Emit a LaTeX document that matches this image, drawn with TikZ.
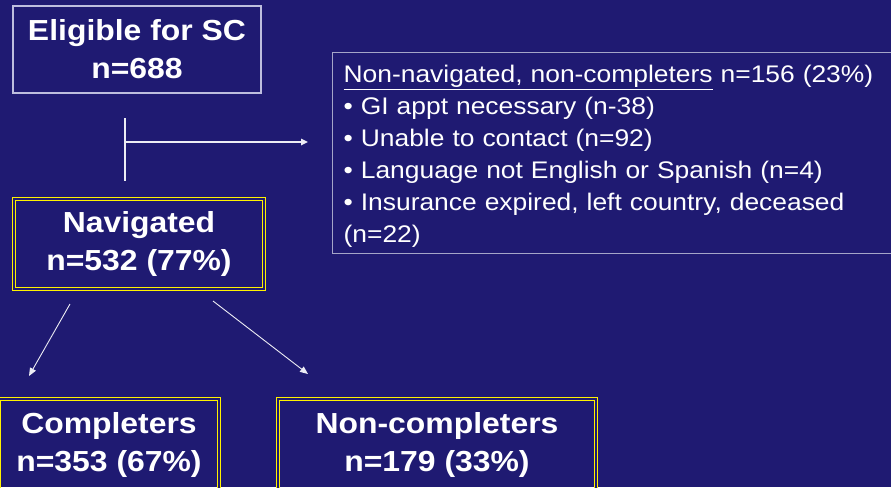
\documentclass[tikz,border=0pt]{standalone}
\usepackage{fontspec}
\setmainfont[FakeStretch=1.1]{Liberation Sans}
\usepackage{xcolor}
\usepackage{tikz}
\usetikzlibrary{
    arrows.meta,
    shapes,
    backgrounds,
    calc,
    positioning,
}
\definecolor{slideBlue}{RGB}{31,26,114}
\definecolor{boxGrey}{RGB}{190,190,222}
\definecolor{noteGrey}{RGB}{165,165,200}

\begin{document}
\begin{tikzpicture}[x=1pt,y=-1pt,>={Triangle[length=7pt,width=6.5pt]},auto]

                \tikzstyle{commonNode}=[text=white, font=\fontsize{29}{38}\selectfont\bfseries, align=center, inner sep=0pt]
                \tikzstyle{plainBox}=[commonNode, rectangle, draw=boxGrey, line width=1.3pt]
                \tikzstyle{stageBox}=[commonNode, rectangle, draw=yellow, line width=1pt, double=slideBlue, double distance=2pt]
                \tikzstyle{noteBox}=[rectangle, draw=noteGrey, line width=1.3pt, text=white, font=\fontsize{24}{32}\selectfont, align=left, inner xsep=11pt, inner ysep=0pt]
                \tikzstyle{flow}=[draw=white!92!slideBlue, line width=1.6pt]
                \tikzstyle{split}=[draw=white!92!slideBlue, line width=0.9pt, >={Triangle[length=8pt,width=6.5pt]}]

                % slide background
                \fill[slideBlue] (0,0) rectangle (891,487);
                \useasboundingbox (0,0) rectangle (891,487);
                \clip (0,0) rectangle (891,487);

                \begin{scope}

                    % Boxes
                    \node at (137,49.5) [plainBox, minimum width=248pt, minimum height=87pt] (elig) {Eligible for SC\\n=688};
                    \node at (139,244) [stageBox, minimum width=250pt, minimum height=90pt] (nav) {Navigated\\n=532 (77\%)};
                    \node at (109,445) [stageBox, minimum width=220pt, minimum height=92pt] (comp) {Completers\\n=353 (67\%)};
                    \node at (437,445) [stageBox, minimum width=318pt, minimum height=92pt] (noncomp) {Non-completers\\n=179 (33\%)};
                    \node at (332,52) [noteBox, anchor=north west, text width=566pt, minimum height=201pt] (nonnav)
                        {\rule{0pt}{24pt}\underline{Non-navigated, non-completers} n=156 (23\%)\\
                         \textbullet{} GI appt necessary (n-38)\\
                         \textbullet{} Unable to contact (n=92)\\
                         \textbullet{} Language not English or Spanish (n=4)\\
                         \textbullet{} Insurance expired, left country, deceased\\
                         (n=22)};

                    % Connectors
                    \coordinate (stemTop) at (125,118);
                    \coordinate (stemBot) at (125,181);
                    \coordinate (branch) at (125,142);
                    \coordinate (branchEnd) at (308,142);
                    \draw [flow] (stemTop) -- (stemBot);
                    \draw [flow,->] (branch) -- (branchEnd);

                    \coordinate (leftFrom) at (70,304);
                    \coordinate (leftTo) at (29,376);
                    \coordinate (rightFrom) at (213,301);
                    \coordinate (rightTo) at (308,374);
                    \draw [split,->] (leftFrom) -- (leftTo);
                    \draw [split,->] (rightFrom) -- (rightTo);
                \end{scope}
            \end{tikzpicture}
\end{document}
